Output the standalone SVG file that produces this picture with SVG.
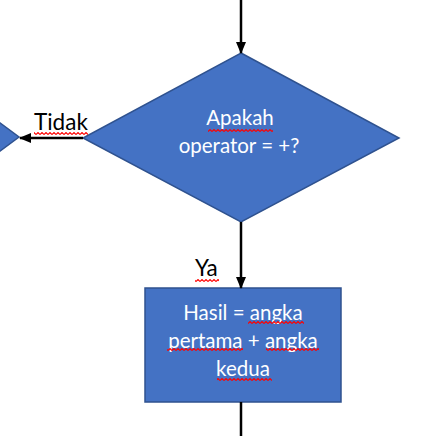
<svg xmlns="http://www.w3.org/2000/svg" width="424" height="436" viewBox="0 0 424 436">
<style>
.shape{fill:#4472C4;stroke:#2F528F;stroke-width:1.5}
.lbl{font-family:Lato,"Open Sans","Liberation Sans",sans-serif;font-size:20.5px;fill:#fff;text-anchor:middle}
.blk{font-family:Lato,"Open Sans","Liberation Sans",sans-serif;font-size:22.5px;fill:#000}
.conn{stroke:#000;stroke-width:2.5;fill:none}
</style>
<defs>
<marker id="ah" markerWidth="12" markerHeight="10" refX="11" refY="5" orient="auto" markerUnits="userSpaceOnUse">
<path d="M0,0 L12,5 L0,10 Z" fill="#000"/>
</marker>
<pattern id="sq" width="4" height="3" patternUnits="userSpaceOnUse">
<path d="M0,2.5 L2,0.5 L4,2.5" fill="none" stroke="#FF0000" stroke-width="1.1"/>
</pattern>
</defs>
<rect width="424" height="436" fill="#fff"/>
<g id="prev-node">
<polygon class="shape" points="-20,108 19,137 -20,166"/>
</g>
<g id="decision">
<polygon class="shape" points="241,53 399,138 241,222 83,138"/>
<text class="lbl" x="240" y="125">Apakah</text>
<text class="lbl" x="239" y="153">operator = +?</text>
<rect x="208" y="129" width="65" height="3" fill="url(#sq)"/>
</g>
<g id="process">
<rect class="shape" x="145" y="288" width="196" height="114"/>
<text class="lbl" x="243" y="320">Hasil = angka</text>
<text class="lbl" x="243" y="348">pertama + angka</text>
<text class="lbl" x="243" y="376">kedua</text>
<rect x="248" y="321" width="56" height="3" fill="url(#sq)"/>
<rect x="167" y="348" width="76" height="3" fill="url(#sq)"/>
<rect x="266" y="348" width="53" height="3" fill="url(#sq)"/>
<rect x="217" y="378" width="55" height="3" fill="url(#sq)"/>
</g>
<g id="connectors">
<line class="conn" x1="241" y1="0" x2="241" y2="53" marker-end="url(#ah)"/>
<line class="conn" x1="83" y1="138" x2="20" y2="138" marker-end="url(#ah)"/>
<line class="conn" x1="241" y1="222" x2="241" y2="288" marker-end="url(#ah)"/>
<line class="conn" x1="241" y1="402" x2="241" y2="436"/>
<text class="blk" x="34" y="130">Tidak</text>
<rect x="34" y="132" width="54" height="3" fill="url(#sq)"/>
<text class="blk" x="195" y="276">Ya</text>
<rect x="195" y="279" width="24" height="3" fill="url(#sq)"/>
</g>
</svg>
